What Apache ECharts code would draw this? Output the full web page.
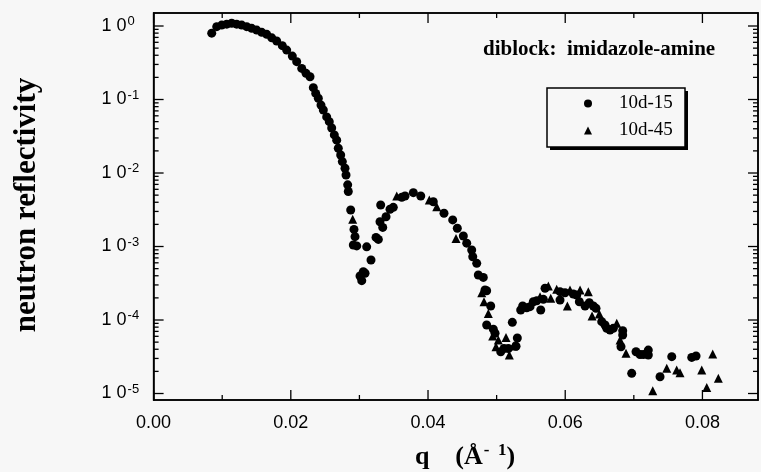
<!DOCTYPE html>
<html>
<head>
<meta charset="utf-8">
<script src="https://cdn.jsdelivr.net/npm/echarts@6/dist/echarts.min.js"></script>
<style>
html,body{margin:0;padding:0;background:#f7f7f7;}
#chart{width:761px;height:472px;}
</style>
</head>
<body>
<div id="chart"></div>
<script>
const seriesNames = ['10d-15', '10d-45'];

const qCircle = [0.00847,0.0092,0.00993,0.01066,0.01138,0.01211,0.01284,0.01357,0.0143,0.01503,
  0.01576,0.01649,0.01722,0.01794,0.01876,0.0194,0.02022,0.02086,0.02159,0.02222,
  0.0228,0.02328,0.02363,0.02401,0.0244,0.02474,0.02523,0.02561,0.02596,0.02634,
  0.02669,0.02692,0.02727,0.02751,0.0279,0.02805,0.02829,0.02838,0.02873,0.02921,
  0.02936,0.02911,0.02961,0.03106,0.03169,0.03057,0.03009,0.03034,0.03082,0.03242,
  0.03276,0.0334,0.033,0.03388,0.0331,0.03446,0.03494,0.03617,0.03665,0.03786,
  0.03894,0.04077,0.04233,0.0436,0.04427,0.04515,0.04564,0.04637,0.04652,0.0471,
  0.04733,0.04806,0.04831,0.04855,0.04914,0.04855,0.04952,0.04977,0.0506,0.05108,
  0.05171,0.05283,0.05302,0.05229,0.05351,0.0538,0.05439,0.05487,0.05535,0.05585,
  0.05643,0.05681,0.05706,0.05924,0.05924,0.05997,0.06118,0.06168,0.06206,0.06289,
  0.06351,0.0641,0.06449,0.06532,0.0658,0.06605,0.06653,0.06701,0.06838,0.06838,
  0.06813,0.07032,0.0709,0.07138,0.07211,0.07211,0.06969,0.07382,0.07553,0.07844,0.07907];
const rCircle = [0.80,0.98,1.03,1.06,1.09,1.06,1.03,0.98,0.93,0.88,
  0.82,0.77,0.69,0.625,0.54,0.47,0.39,0.327,0.265,0.227,
  0.204,0.145,0.121,0.104,0.084,0.072,0.058,0.050,0.041,0.033,
  0.028,0.0217,0.0176,0.0143,0.0116,0.0094,0.0069,0.0056,0.00314,0.00171,
  0.00136,0.00105,0.00102,0.00099,0.000655,0.000454,0.000397,0.000343,0.000432,0.00133,
  0.00125,0.00182,0.00217,0.00254,0.00367,0.00321,0.00341,0.00467,0.00487,0.0054,
  0.00487,0.00407,0.00283,0.0023,0.00177,0.00139,0.00111,0.000896,0.000726,0.00059,
  0.00041,0.00038,0.000256,0.00025,0.000155,8.55e-5,7.5e-5,6.6e-5,3.7e-5,4.1e-5,
  4.1e-5,4.4e-5,5.7e-5,9.3e-5,1.37e-4,1.55e-4,1.47e-4,1.52e-4,1.77e-4,1.83e-4,
  1.37e-4,1.91e-4,2.7e-4,1.87e-4,2.43e-4,2.35e-4,2.26e-4,2.19e-4,1.77e-4,1.55e-4,
  1.72e-4,1.55e-4,1.44e-4,9.5e-5,8.55e-5,7.7e-5,7.3e-5,7.7e-5,7.15e-5,6.25e-5,
  4.33e-5,3.7e-5,3.4e-5,3.4e-5,3.9e-5,3.34e-5,1.88e-5,1.69e-5,3.17e-5,3.1e-5,3.24e-5];

const qTriangle = [0.02902,0.03544,0.04019,0.04127,0.04408,0.04783,0.04816,0.04879,0.04943,0.05025,
  0.04991,0.05137,0.05185,0.05243,0.05633,0.05754,0.05789,0.05876,0.06031,0.0607,
  0.06216,0.06337,0.06391,0.06497,0.06751,0.06799,0.06886,0.07276,0.0748,0.07625,
  0.07673,0.0799,0.08063,0.0815,0.08232];
const rTriangle = [0.00234,0.00487,0.0043,0.00348,0.00129,0.000235,0.000177,0.000123,6.05e-5,5.35e-5,
  4.33e-5,5.8e-5,3.34e-5,4.43e-5,2.07e-4,2.9e-4,1.97e-4,2.62e-4,1.55e-4,2.56e-4,
  2.56e-4,2.43e-4,1.13e-4,1.21e-4,9.0e-5,5.35e-5,3.52e-5,1.09e-5,2.2e-5,2.09e-5,
  1.92e-5,2.09e-5,1.21e-5,3.44e-5,1.61e-5];

// tick positions
const xMajorTicks = [0, 0.02, 0.04, 0.06, 0.08];
const xMinorTicks = [0.01, 0.03, 0.05, 0.07];
const yMajorTicks = [1e-5, 1e-4, 1e-3, 1e-2, 1e-1, 1];
const yMinorTicks = [];
[-5, -4, -3, -2, -1].forEach(function (e) {
  for (let m = 2; m <= 9; m++) yMinorTicks.push(m * Math.pow(10, e));
});

const xMin = 0, xMax = 0.0881;
const yMin = 8.16e-6, yMax = 1.503;

const titleText = 'diblock:  imidazole-amine';
const yTitle = 'neutron reflectivity';

const chart = echarts.init(document.getElementById('chart'), null, {renderer: 'canvas'});

const black = '#000';
const sans = 'Liberation Sans';
const serif = 'Liberation Serif';
const MAJOR = 10, MINOR = 5;

// tick tables built from the tick arrays (value + tick length)
const xTickData = xMajorTicks.map(function (v) { return [v, yMin, MAJOR]; })
  .concat(xMinorTicks.map(function (v) { return [v, yMin, MINOR]; }));
const yTickData = yMajorTicks.map(function (v) { return [xMin, v, MAJOR]; })
  .concat(yMinorTicks.map(function (v) { return [xMin, v, MINOR]; }));

function tickLine(x1, y1, x2, y2) {
  return {type: 'line', shape: {x1: x1, y1: y1, x2: x2, y2: y2}, style: {stroke: black, lineWidth: 1.3}};
}

const option = {
  backgroundColor: '#f7f7f7',
  animation: false,
  grid: {left: 153.6, top: 13, width: 604.4, height: 387, show: true, borderColor: black, borderWidth: 1.5, backgroundColor: 'transparent'},
  xAxis: [
    {
      type: 'value', position: 'bottom', min: xMin, max: xMax,
      axisLine: {show: true, onZero: false, lineStyle: {color: black, width: 1.5}},
      axisTick: {show: false},
      axisLabel: {
        show: true, customValues: xMajorTicks, margin: 14, color: black,
        fontFamily: sans, fontSize: 18,
        formatter: function (v) { return v.toFixed(2); }
      },
      splitLine: {show: false}
    },
    {
      type: 'value', position: 'top', min: xMin, max: xMax,
      axisLine: {show: true, onZero: false, lineStyle: {color: black, width: 1.5}},
      axisTick: {show: false}, axisLabel: {show: false}, splitLine: {show: false}
    }
  ],
  yAxis: [
    {
      type: 'log', logBase: 10, position: 'left', min: yMin, max: yMax,
      axisLine: {show: true, onZero: false, lineStyle: {color: black, width: 1.5}},
      axisTick: {show: false},
      axisLabel: {
        show: true, customValues: yMajorTicks, margin: 52, align: 'left', color: black,
        formatter: function (v) {
          const e = Math.round(Math.log10(v));
          return '{m|1 0}{s|' + e + '}';
        },
        rich: {
          m: {fontFamily: sans, fontSize: 18, color: black},
          s: {fontFamily: sans, fontSize: 13, color: black, padding: [0, 0, 9, 1]}
        }
      },
      splitLine: {show: false}
    },
    {
      type: 'log', logBase: 10, position: 'right', min: yMin, max: yMax,
      axisLine: {show: true, onZero: false, lineStyle: {color: black, width: 1.5}},
      axisTick: {show: false}, axisLabel: {show: false}, splitLine: {show: false}
    }
  ],
  legend: {
    left: 547, top: 88, orient: 'vertical', z: 10,
    data: [
      {name: seriesNames[0], icon: 'circle'},
      {name: seriesNames[1], icon: 'triangle'}
    ],
    itemWidth: 8, itemHeight: 8, itemGap: 8,
    padding: [6, 10, 9, 37],
    textStyle: {fontFamily: serif, fontSize: 19, color: black, lineHeight: 18, padding: [0, 0, 0, 22]},
    selectedMode: false
  },
  graphic: [
    {
      type: 'rect', z: 5, silent: true,
      shape: {x: 550, y: 91, width: 138, height: 59},
      style: {fill: black}
    },
    {
      type: 'rect', z: 6, silent: true,
      shape: {x: 547, y: 88, width: 138, height: 59},
      style: {fill: '#f7f7f7', stroke: black, lineWidth: 1.5}
    },
    {
      type: 'text', left: 483, top: 39, silent: true,
      style: {text: titleText, fill: black, font: 'bold 21px "Liberation Serif"'}
    },
    {
      type: 'text', x: 27, y: 205, rotation: Math.PI / 2, silent: true,
      style: {text: yTitle, fill: black, font: 'bold 31px "Liberation Serif"', align: 'center', verticalAlign: 'middle'}
    },
    {
      type: 'text', x: 465, y: 457, silent: true,
      style: {
        text: '{b|q}{b|    (Å}{s|-  1}{b|)}',
        align: 'center', verticalAlign: 'middle',
        rich: {
          b: {fontFamily: serif, fontWeight: 'bold', fontSize: 26, fill: black, color: black},
          s: {fontFamily: serif, fontWeight: 'bold', fontSize: 17, fill: black, color: black, padding: [0, 0, 12, 1]}
        }
      }
    }
  ],
  series: [
    {
      name: seriesNames[0], type: 'scatter', xAxisIndex: 0, yAxisIndex: 0,
      symbol: 'circle', symbolSize: 9, itemStyle: {color: black, opacity: 1},
      data: qCircle.map(function (q, i) { return [q, rCircle[i]]; })
    },
    {
      name: seriesNames[1], type: 'scatter', xAxisIndex: 0, yAxisIndex: 0,
      symbol: 'triangle', symbolSize: 9, itemStyle: {color: black, opacity: 1},
      data: qTriangle.map(function (q, i) { return [q, rTriangle[i]]; })
    },
    {
      name: 'xticks', type: 'custom', xAxisIndex: 0, yAxisIndex: 0, silent: true, clip: false,
      encode: {x: 0, y: 1}, data: xTickData,
      renderItem: function (params, api) {
        const v = api.value(0), len = api.value(2);
        const b = api.coord([v, yMin]);
        const t = api.coord([v, yMax]);
        return {type: 'group', children: [
          tickLine(b[0], b[1], b[0], b[1] - len),
          tickLine(t[0], t[1], t[0], t[1] + len)
        ]};
      }
    },
    {
      name: 'yticks', type: 'custom', xAxisIndex: 0, yAxisIndex: 0, silent: true, clip: false,
      encode: {x: 0, y: 1}, data: yTickData,
      renderItem: function (params, api) {
        const v = api.value(1), len = api.value(2);
        const l = api.coord([xMin, v]);
        const r = api.coord([xMax, v]);
        return {type: 'group', children: [
          tickLine(l[0], l[1], l[0] + len, l[1]),
          tickLine(r[0], r[1], r[0] - len, r[1])
        ]};
      }
    }
  ]
};
chart.setOption(option);
</script>
</body>
</html>
